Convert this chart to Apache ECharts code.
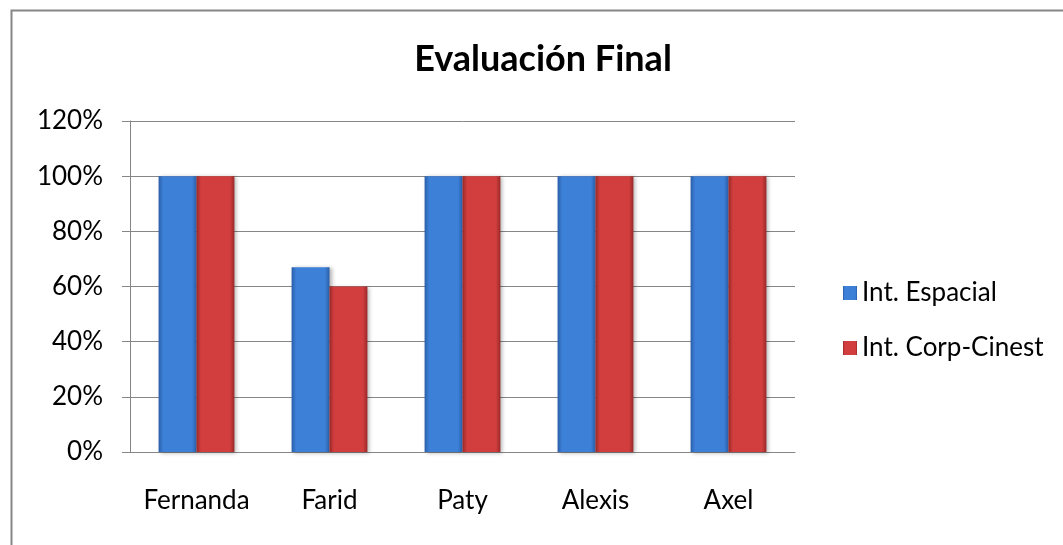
<!DOCTYPE html>
<html><head><meta charset="utf-8">
<script src="https://cdn.jsdelivr.net/npm/echarts@6/dist/echarts.min.js"></script>
<style>html,body{margin:0;padding:0;background:#fff;}#c{width:1063px;height:545px;}</style>
</head><body><div id="c"></div>
<script>
var categories = ['Fernanda', 'Farid', 'Paty', 'Alexis', 'Axel'];
var espacial = [1.00, 0.67, 1.00, 1.00, 1.00];
var corpCinest = [1.00, 0.60, 1.00, 1.00, 1.00];
var seriesNames = ['Int. Espacial', 'Int. Corp-Cinest'];
var titleText = 'Evaluación Final';

var FONT = 'Lato';
function grad(edge, mid) {
  return new echarts.graphic.LinearGradient(0, 0, 1, 0, [
    {offset: 0, color: edge}, {offset: 0.12, color: mid},
    {offset: 0.88, color: mid}, {offset: 1, color: edge}
  ]);
}
var blue = grad('#2a5ea8', '#3d80d8');
var red = grad('#9a2828', '#d23e3e');

var chart = echarts.init(document.getElementById('c'));
chart.setOption({
  animation: false,
  backgroundColor: '#fff',
  title: {
    text: titleText, left: 538, top: 36, textAlign: 'center',
    textStyle: {fontFamily: FONT, fontWeight: 'bold', fontSize: 36, color: '#000'}
  },
  graphic: [{
    type: 'rect', left: 9, top: 8, silent: true,
    shape: {width: 1200, height: 700},
    style: {fill: 'none', stroke: '#868686', lineWidth: 2}
  }],
  legend: {
    orient: 'vertical', left: 838, top: 273,
    itemWidth: 14, itemHeight: 14, itemGap: 25,
    icon: 'rect',
    textStyle: {fontFamily: FONT, fontSize: 26, color: '#000', lineHeight: 30},
    data: seriesNames
  },
  grid: {left: 130, right: 268, top: 121, bottom: 93, containLabel: false},
  xAxis: {
    type: 'category', data: categories,
    axisLine: {show: true, lineStyle: {color: '#868686', width: 1}},
    axisTick: {show: false},
    axisLabel: {fontFamily: FONT, fontSize: 26, color: '#000', margin: 36, interval: 0}
  },
  yAxis: {
    type: 'value', min: 0, max: 1.2, interval: 0.2,
    axisLine: {show: true, lineStyle: {color: '#868686', width: 1}},
    axisTick: {show: true, length: 8, lineStyle: {color: '#868686'}},
    splitLine: {show: true, lineStyle: {color: '#868686', width: 1}},
    axisLabel: {
      fontFamily: FONT, fontSize: 26, color: '#000', margin: 27,
      formatter: function (v) { return Math.round(v * 100) + '%'; }
    }
  },
  series: [
    {name: seriesNames[0], type: 'bar', data: espacial, barGap: '0%', barCategoryGap: '43%',
     itemStyle: {color: blue, shadowColor: 'rgba(0,0,0,0.3)', shadowBlur: 4, shadowOffsetX: 2, shadowOffsetY: 1}},
    {name: seriesNames[1], type: 'bar', data: corpCinest, barGap: '0%', barCategoryGap: '43%',
     itemStyle: {color: red, shadowColor: 'rgba(0,0,0,0.3)', shadowBlur: 4, shadowOffsetX: 2, shadowOffsetY: 1}}
  ]
});
</script></body></html>
